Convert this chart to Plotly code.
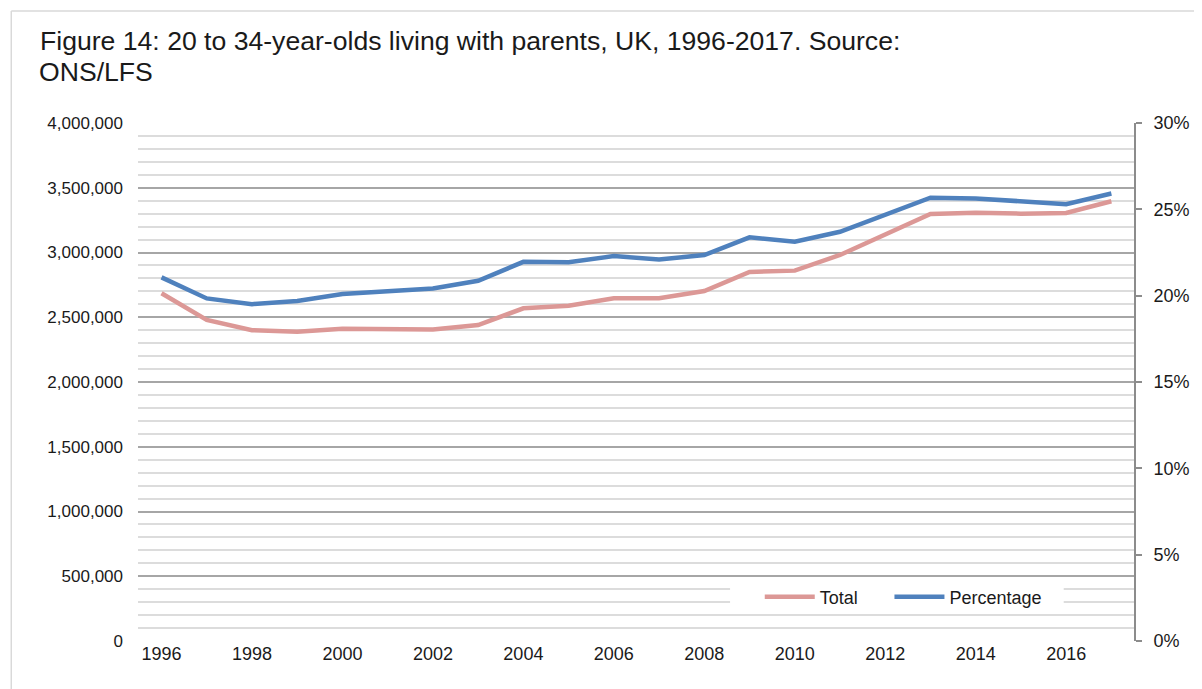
import plotly.graph_objects as go

# Values
years = list(range(1996, 2018))
total = [2685000, 2480000, 2400000, 2388000, 2412000, 2407000, 2405000, 2440000,
         2569000, 2589000, 2646000, 2646000, 2703000, 2850000, 2860000, 2981000,
         3143000, 3297000, 3307000, 3300000, 3305000, 3396000]
percentage = [21.06, 19.84, 19.51, 19.69, 20.09, 20.23, 20.42, 20.86,
              21.96, 21.93, 22.29, 22.10, 22.35, 23.38, 23.13, 23.70,
              24.67, 25.67, 25.63, 25.44, 25.30, 25.92]

left_ticks = [0, 500000, 1000000, 1500000, 2000000, 2500000, 3000000, 3500000, 4000000]
left_labels = ["0", "500,000", "1,000,000", "1,500,000", "2,000,000",
               "2,500,000", "3,000,000", "3,500,000", "4,000,000"]
right_ticks = [0, 5, 10, 15, 20, 25, 30]
right_labels = ["0%", "5%", "10%", "15%", "20%", "25%", "30%"]
x_ticks = list(range(1996, 2017, 2))

title_line1 = "Figure 14: 20 to 34-year-olds living with parents, UK, 1996-2017. Source:"
title_line2 = "ONS/LFS"

FONT = "Liberation Sans, Arial, sans-serif"
# the page body has an 8px margin, so the figure is sized/placed relative to that
OFF = 8
W, H = 1202 - OFF, 689 - OFF
L, R, T, B = 138 - OFF, 1144 - OFF, 123 - OFF, 641 - OFF

fig = go.Figure()
fig.add_trace(go.Scatter(
    x=years, y=total, name="Total", mode="lines", showlegend=True,
    line=dict(color="#dc9896", width=4.5), yaxis="y", legend="legend"
))
fig.add_trace(go.Scatter(
    x=years, y=percentage, name="Percentage", mode="lines", showlegend=True,
    line=dict(color="#4f81bd", width=4.5), yaxis="y2", legend="legend2"
))

pw = R - L
ph = B - T


def px_x(p):
    # reference pixel -> paper x
    return (p - OFF - L) / pw


def px_y(p):
    # reference pixel -> paper y
    return (B - (p - OFF)) / ph


shapes = [
    # outer chart frame (top and left edges visible)
    dict(type="line", xref="paper", yref="paper",
         x0=px_x(10), x1=px_x(1210), y0=px_y(11), y1=px_y(11),
         line=dict(color="#d9d9d9", width=1.5)),
    dict(type="line", xref="paper", yref="paper",
         x0=px_x(10), x1=px_x(10), y0=px_y(11), y1=px_y(700),
         line=dict(color="#d9d9d9", width=1.5)),
    # white box behind the legend, hiding the gridlines (no data lines run here)
    dict(type="rect", xref="paper", yref="paper", layer="above",
         x0=px_x(736), x1=px_x(1073), y0=px_y(610), y1=px_y(583),
         fillcolor="white", line=dict(width=0)),
]

legend_style = dict(
    orientation="h",
    xanchor="left",
    y=px_y(597), yanchor="middle",
    bgcolor="rgba(0,0,0,0)",
    font=dict(size=18),
    itemwidth=50,
)

fig.update_layout(
    width=W, height=H,
    margin=dict(l=L, r=W - R, t=T, b=H - B, pad=0),
    showlegend=True,
    paper_bgcolor="white",
    plot_bgcolor="white",
    font=dict(family=FONT, size=18, color="#1a1a1a"),
    title=dict(
        text=title_line1,
        xref="container", yref="container",
        x=(40 - OFF) / W, xanchor="left",
        y=1 - (41 - OFF) / H, yanchor="middle",
        font=dict(family=FONT, size=26.6, color="#1a1a1a"),
    ),
    annotations=[dict(
        text=title_line2, xref="paper", yref="paper",
        x=px_x(36), xanchor="left",
        y=px_y(72), yanchor="middle",
        showarrow=False,
        font=dict(family=FONT, size=26.6, color="#1a1a1a"),
    )],
    xaxis=dict(
        range=[1995.48, 2017.5],
        tickvals=x_ticks,
        ticktext=[str(v) for v in x_ticks],
        showgrid=False,
        zeroline=False,
        showline=False,
        ticks="",
        tickfont=dict(size=18),
    ),
    yaxis=dict(
        range=[0, 4000000],
        tickvals=left_ticks,
        ticktext=left_labels,
        showgrid=True,
        gridcolor="#a6a6a6",
        gridwidth=2,
        minor=dict(dtick=100000, showgrid=True, gridcolor="#dcdcdc", gridwidth=2),
        zeroline=False,
        showline=False,
        ticks="",
        ticklabelstandoff=14,
        tickfont=dict(size=17),
    ),
    yaxis2=dict(
        range=[0, 30],
        overlaying="y",
        side="right",
        tickvals=right_ticks,
        ticktext=right_labels,
        showgrid=False,
        zeroline=False,
        showline=True,
        linecolor="#8c8c8c",
        linewidth=2,
        ticks="outside",
        ticklen=6,
        tickwidth=2,
        tickcolor="#8c8c8c",
        ticklabelstandoff=8,
        tickfont=dict(size=18),
    ),
    legend=dict(legend_style, x=px_x(766)),
    legend2=dict(legend_style, x=px_x(897)),
    shapes=shapes,
)

fig.write_html("out.html")
